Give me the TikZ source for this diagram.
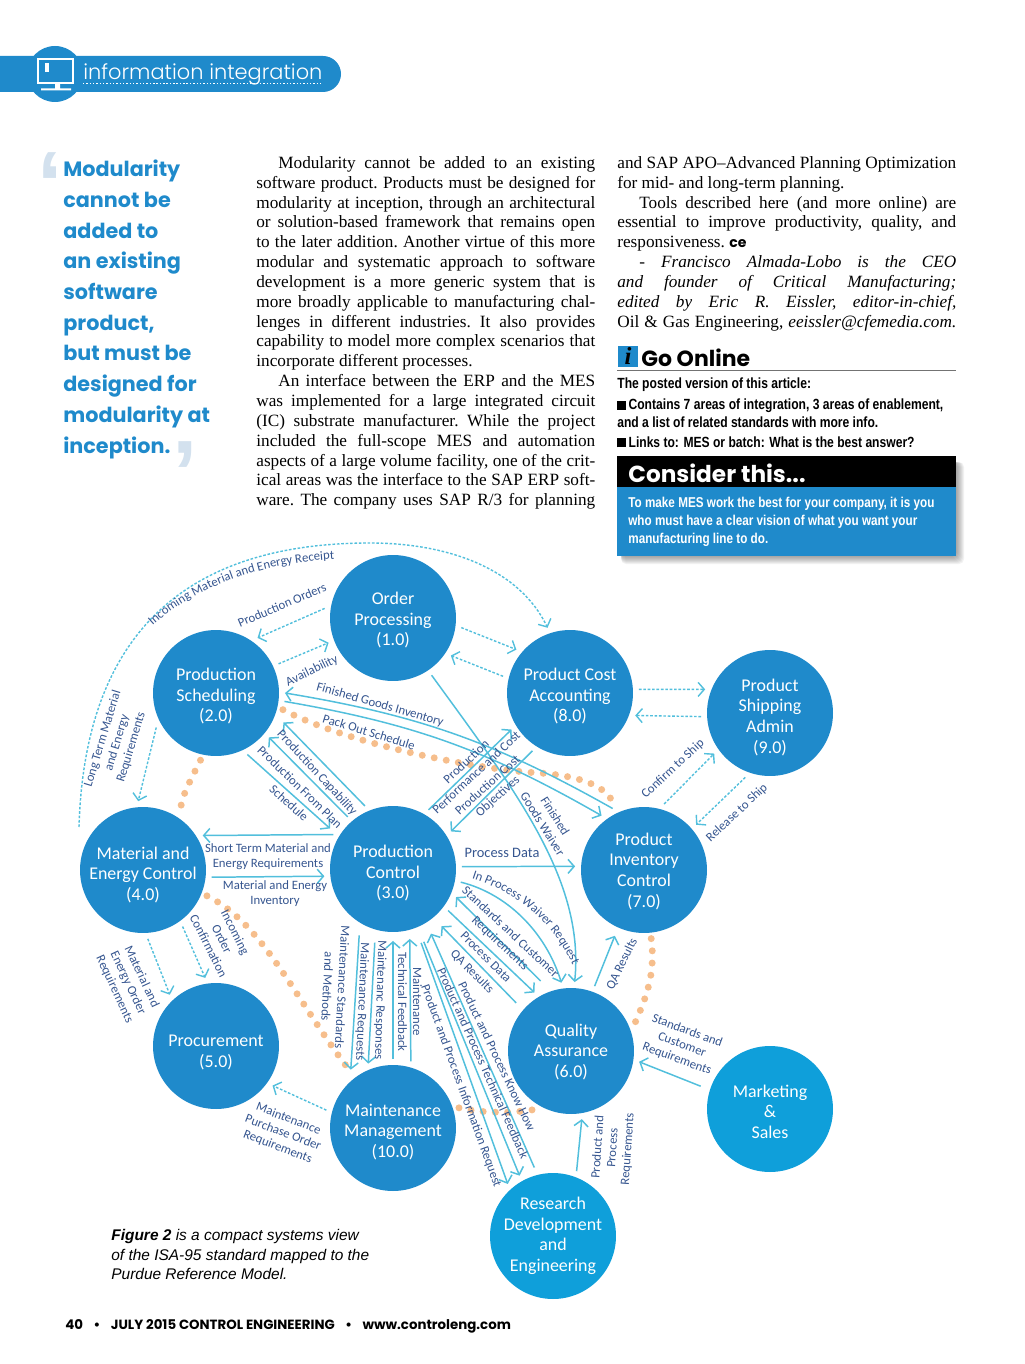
\documentclass[tikz,border=0pt]{standalone}
\usepackage{fontspec}
\usetikzlibrary{arrows.meta, backgrounds, decorations.text}
\setmainfont{Liberation Serif}
\newfontfamily\diagfont{Carlito}
\newfontfamily\narrowfont{Liberation Sans}[FakeStretch=0.82]
\newfontfamily\capfont{Liberation Sans}
\newfontfamily\headfont{Poppins}
\newfontfamily\thinfont{Poppins Light}
\definecolor{isablue}{HTML}{1F8ACB}
\definecolor{isacyan}{HTML}{0F9FDA}
\definecolor{linkcyan}{HTML}{52BFDC}
\definecolor{labelblue}{HTML}{35558F}
\definecolor{dotorange}{HTML}{F6BE8C}
\definecolor{quotegrey}{HTML}{D3E1EE}
\newcommand{\bodyline}[1]{\hbox to 6.78cm{\frenchspacing\spaceskip=0.25em plus 0.3em minus 0.08em\relax #1}}
\newcommand{\sqbullet}{\rule{5pt}{5pt}\,}
\newcommand{\lblface}{\diagfont\fontsize{7.25}{8.5}\selectfont\color{labelblue}}
\newcommand{\nudge}[1]{\mbox{}\\[#1]}
\begin{document}
\begin{tikzpicture}[
      x=0.02cm, y=-0.02cm,
      area/.style={circle, fill=isablue, text=white, minimum size=2.52cm, inner sep=0pt,
        outer sep=0.12cm, align=center, font=\diagfont\fontsize{10.2}{11.7}\selectfont},
      outerarea/.style={area, fill=isacyan},
      lbl/.style={text=labelblue, inner sep=0pt, align=center, font=\lblface},
      link/.style={draw=linkcyan, line width=0.85pt, -{Straight Barb[length=3.5pt,width=8pt]}},
      dlink/.style={link, line width=0.8pt, dash pattern=on 1.5pt off 1pt},
      dots/.style={draw=dotorange, line width=0.14cm, line cap=round, dash pattern=on 0pt off 0.245cm},
      body/.style={anchor=north west, inner sep=0pt, text width=6.78cm,
        font=\fontsize{9.8}{11.3}\selectfont},
      aside/.style={anchor=west, inner sep=0pt, font=\narrowfont\bfseries\fontsize{8.4}{9}\selectfont},
      boxtext/.style={aside, text=white, font=\narrowfont\bfseries\fontsize{8.13}{9}\selectfont},
      pull/.style={anchor=base west, inner sep=0pt, text=isablue, font=\headfont\bfseries\fontsize{11.8}{14}\selectfont},
      quotemark/.style={anchor=center, inner sep=0pt, text=quotegrey, font=\capfont\bfseries\fontsize{52}{52}\selectfont}
    ]
      \useasboundingbox (0,0) rectangle (1024,1364);

      \fill[isablue, rounded corners=0.36cm] (-40,56) rectangle (341,92);
      \fill[isablue] (55,74) circle (0.56cm);
      \draw[white, line width=0.8pt] (38,59) rectangle (73,83);
      \fill[white] (45,63) rectangle (49,72);
      \fill[white] (55,83) rectangle (60,89) (41,88.5) rectangle (71,90.5);
      \node[anchor=base west, inner sep=0pt, text=white, font=\thinfont\fontsize{11.9}{14}\selectfont] (banner) at (83,80) {information integration};
      \draw[white, line width=0.9pt, dash pattern=on 0.8pt off 1.1pt] (83,83.5) -- (322,83.5);

      \node[quotemark] (openq) at (50,184) {‘};
      \node[pull] (q1) at (63,177) {Modularity};
      \node[pull] (q2) at (63,208) {cannot be};
      \node[pull] (q3) at (63,239) {added to};
      \node[pull] (q4) at (63,269) {an existing};
      \node[pull] (q5) at (63,300) {software};
      \node[pull] (q6) at (63,331) {product,};
      \node[pull] (q7) at (63,361) {but must be};
      \node[pull] (q8) at (63,392) {designed for};
      \node[pull] (q9) at (63,423) {modularity at};
      \node[pull] (q10) at (63,454) {inception.};
      \node[quotemark] (closeq) at (185,473) {’};

      \node[body] (col1) at (256,156) {%
        \bodyline{\hspace{4.4mm}Modularity cannot be added to an existing}
        \bodyline{software product. Products must be designed for}
        \bodyline{modularity at inception, through an architectural}
        \bodyline{or solution-based framework that remains open}
        \bodyline{to the later addition. Another virtue of this more}
        \bodyline{modular and systematic approach to software}
        \bodyline{development is a more generic system that is}
        \bodyline{more broadly applicable to manufacturing chal-}
        \bodyline{lenges in different industries. It also provides}
        \bodyline{capability to model more complex scenarios that}
        \bodyline{incorporate different processes.\hfil}
        \bodyline{\hspace{4.4mm}An interface between the ERP and the MES}
        \bodyline{was implemented for a large integrated circuit}
        \bodyline{(IC) substrate manufacturer. While the project}
        \bodyline{included the full-scope MES and automation}
        \bodyline{aspects of a large volume facility, one of the crit-}
        \bodyline{ical areas was the interface to the SAP ERP soft-}
        \bodyline{ware. The company uses SAP R/3 for planning}};
      \node[body] (col2) at (617,156) {%
        \bodyline{and SAP APO--Advanced Planning Optimization}
        \bodyline{for mid- and long-term planning.\hfil}
        \bodyline{\hspace{4.4mm}Tools described here (and more online) are}
        \bodyline{essential to improve productivity, quality, and}
        \bodyline{responsiveness. {\headfont\bfseries\fontsize{8}{8}\selectfont ce}\hfil}
        \bodyline{\hspace{4.4mm}- \itshape Francisco Almada-Lobo is the CEO}
        \bodyline{\itshape and founder of Critical Manufacturing;}
        \bodyline{\itshape edited by Eric R. Eissler, editor-in-chief,}
        \bodyline{Oil \& Gas Engineering, \itshape eeissler@cfemedia.com.}};

      \fill[isablue] (618,346) rectangle (638,367);
      \node[inner sep=0pt, font=\bfseries\itshape\fontsize{14}{14}\selectfont] (infoicon) at (628,356) {i};
      \node[anchor=west, inner sep=0pt, font=\headfont\bfseries\fontsize{12.5}{14}\selectfont] (goonline) at (641,358) {Go Online};
      \draw[black!55, line width=0.6pt] (617,370.5) -- (956,370.5);
      \node[aside] (aside1) at (617,385) {The posted version of this article:};
      \node[aside] (aside2) at (617,406) {\sqbullet Contains 7 areas of integration, 3 areas of enablement,};
      \node[aside] (aside3) at (617,422) {and a list of related standards with more info.};
      \node[aside] (aside4) at (617,442) {\sqbullet Links to: MES or batch: What is the best answer?};

      \foreach \s in {1,...,8}
        \fill[black, opacity=0.05, rounded corners=0.1cm] (621,462) rectangle (956+\s,556+\s);
      \fill[black] (617,456) rectangle (956,487);
      \fill[isablue] (617,487) rectangle (956,556);
      \node[anchor=west, inner sep=0pt, text=white, font=\headfont\bfseries\fontsize{13.2}{14}\selectfont] (consider) at (628,473) {Consider this...};
      \node[boxtext] (cons1) at (628,504) {To make MES work the best for your company, it is you};
      \node[boxtext] (cons2) at (628,522) {who must have a clear vision of what you want your};
      \node[boxtext] (cons3) at (628,540) {manufacturing line to do.};

      \node[area] (order) at (393,618) {\nudge{-2.06pt}Order\\Processing\\(1.0)};
      \node[area] (sched) at (216,693) {\nudge{-0.92pt}Production\\Scheduling\\(2.0)};
      \node[area] (control) at (393,869) {\nudge{0.21pt}Production\\Control\\(3.0)};
      \node[area] (energy) at (143,870) {\nudge{0.78pt}Material and\\Energy Control\\(4.0)};
      \node[area] (procure) at (216,1046) {\nudge{1.92pt}Procurement\\(5.0)};
      \node[area] (quality) at (571,1051) {\nudge{-3.76pt}Quality\\Assurance\\(6.0)};
      \node[area] (inventory) at (644,870) {\nudge{-3.2pt}Product\\Inventory\\Control\\(7.0)};
      \node[area] (cost) at (570,693) {\nudge{-0.92pt}Product Cost\\Accounting\\(8.0)};
      \node[area] (shipping) at (770,713) {\nudge{0.21pt}Product\\Shipping\\Admin\\(9.0)};
      \node[area] (maint) at (393,1128) {\nudge{-0.36pt}Maintenance\\Management\\(10.0)};
      \node[outerarea] (sales) at (770,1109) {\nudge{-1.5pt}Marketing\\\&\\Sales};
      \node[outerarea] (research) at (553,1236) {Research\\Development\\and\\Engineering};

      \begin{scope}[on background layer]
        \draw[dots] (sched.-103) .. controls (188,785) and (180,800) .. (energy.57);
        \draw[dots] (sched.-14) .. controls (350,745) and (480,770) .. (540,773) .. controls (590,777) and (610,790) .. (inventory.115);
        \draw[dots] (energy.-22) .. controls (265,925) and (295,1000) .. (maint.127);
        \draw[dots] (maint.17) .. controls (490,1115) and (520,1112) .. (quality.-122);
        \draw[dots] (inventory.-84) .. controls (656,975) and (645,1000) .. (quality.23);
      \end{scope}

      \coordinate (receiptstart) at (79,827);
      \draw[dlink] (receiptstart) .. controls (85,620) and (200,543) .. (370,543) .. controls (450,543) and (520,570) .. (cost.109);
      \draw[dlink] (order.172) -- (sched.53);
      \draw[dlink] (sched.25) -- (order.201);
      \draw[dlink] (order.-8) -- (cost.141);
      \draw[dlink] (cost.166) -- (order.-33);
      \draw[dlink] (cost.3) -- (shipping.160);
      \draw[dlink] (shipping.183) -- (cost.-19);
      \draw[dlink] (inventory.73) -- (shipping.216);
      \draw[dlink] (shipping.-111) -- (inventory.41);
      \draw[dlink] (sched.210) -- (energy.94);
      \draw[dlink] (energy.-86) -- (procure.132);
      \draw[dlink] (energy.-55) -- (procure.99);
      \draw[dlink] (maint.165) -- (procure.-35);

      \draw[link] (inventory.117) to[bend right=10] (sched.0);
      \draw[link] (sched.-7) to[bend left=10] (inventory.128);
      \draw[link] (order.-56) .. controls (515,790) and (585,880) .. (quality.87);
      \draw[link] (control.59) -- (cost.212);
      \draw[link] (cost.-123) -- (control.33);
      \draw[link] (control.2) -- (inventory.177);
      \draw[link] (control.-11) .. controls (505,893) and (545,930) .. (quality.98);
      \draw[link, shorten <=0.16cm] (quality.111) -- (control.-24);
      \draw[link] (control.-37) -- (quality.122);
      \draw[link, shorten <=0.08cm, shorten >=0.12cm] (quality.139) -- (control.-50);
      \draw[link, shorten <=0.04cm, shorten >=0.12cm] (research.105) -- (control.-59);
      \draw[link, shorten <=0.2cm] (control.-67) -- (research.119);
      \draw[link, shorten <=0.2cm] (control.-69) -- (research.131);
      \draw[link, shorten <=0.12cm, shorten >=0.08cm] (control.-119) -- (maint.128);
      \draw[link, shorten <=0.14cm] (control.-105) -- (maint.111);
      \draw[link, shorten >=0.06cm] (maint.90) -- (control.-90);
      \draw[link, shorten >=0.06cm] (maint.75) -- (control.-76);
      \draw[link, shorten >=0.06cm] (quality.70) -- (inventory.246);
      \draw[link, shorten <=0.08cm] (sales.162) -- (quality.-9);
      \draw[link] (research.70) -- (quality.-81);
      \draw[link, shorten >=0.1cm] (control.114) -- (sched.-22);
      \draw[link] (control.131) -- (sched.-40);
      \draw[link, shorten >=0.12cm] (sched.-63) -- (control.148);
      \draw[link] (control.150) -- (energy.30);
      \draw[link] (energy.-6) -- (control.186);

      \path[decorate, decoration={text along path, text align=center,
        text={|\lblface|Incoming Material and Energy Receipt}}]
        (150,628) .. controls (190,590) and (260,562) .. (338,559);
      \path[decorate, decoration={text along path, text align=center,
        text={|\lblface|In Process Waiver Request}}]
        (471,878) .. controls (515,892) and (552,920) .. (573,966);
      \node[lbl, rotate=23] (lorders) at (282,605) {Production Orders};
      \node[lbl, rotate=26] (lavail) at (312,671) {Availability};
      \node[lbl, rotate=-16] (lfinished) at (380,705) {Finished Goods Inventory};
      \node[lbl, rotate=-17] (lpackout) at (369,732) {Pack Out Schedule};
      \node[lbl, rotate=-47] (lcapab) at (317,773) {Production Capability};
      \node[lbl, rotate=-44] (lplan) at (300,787) {Production From Plan};
      \node[lbl, rotate=-42] (lschedule) at (289,803) {Schedule};
      \node[lbl, rotate=73] (llong) at (117,743) {Long Term Material\\and Energy\\Requirements};
      \node[lbl] (lshort) at (268,857) {Short Term Material and\\Energy Requirements};
      \node[lbl] (lmatinv) at (275,894) {Material and Energy\\Inventory};
      \node[lbl, rotate=-63] (lincoming) at (222,939) {Incoming\\Order\\Confirmation};
      \node[lbl, rotate=-65] (lmatorder) at (128,983) {Material and\\Energy Order\\Requirements};
      \node[lbl, rotate=-21] (lpurchase) at (283,1133) {Maintenance\\Purchase Order\\Requirements};
      \node[lbl, rotate=-93] (lstandards) at (335,987) {Maintenance Standards\\and Methods};
      \node[lbl, rotate=-92.5] (lrequests) at (362,1002) {Maintenance Requests};
      \node[lbl, rotate=-91.6] (lresponses) at (380,1000) {Maintenanc Responses};
      \node[lbl, rotate=-90] (ltech) at (410,1002) {Maintenance\\Technical Feedback};
      \node[lbl, rotate=-70] (linforeq) at (461,1086) {Product and Process Information Request};
      \node[lbl, rotate=-66] (ltechfeed) at (483,1063) {Product and Process Technical Feedback};
      \node[lbl, rotate=-64.5] (lknow) at (497,1056) {Product and Process Know How};
      \node[lbl, rotate=-45] (lqaleft) at (472,972) {QA Results};
      \node[lbl, rotate=-45] (lprocdiag) at (486,957) {Process Data};
      \node[lbl, rotate=-43] (lcustomer) at (505,938) {Standards and Customer\\Requirements};
      \node[lbl, font=\diagfont\fontsize{8.2}{9}\selectfont] (lprocess) at (502,853) {Process Data};
      \node[lbl, rotate=-58] (lgoods) at (549,820) {Finished\\Goods Waiver};
      \node[lbl, rotate=43] (lperf) at (471,767) {Production\\Performance and Cost};
      \node[lbl, rotate=42] (lobject) at (493,791) {Production Cost\\Objectives};
      \node[lbl, rotate=43] (lconfirm) at (673,769) {Confirm to Ship};
      \node[lbl, rotate=43] (lrelease) at (737,813) {Release to Ship};
      \node[lbl, rotate=64] (lqaright) at (622,964) {QA Results};
      \node[lbl, rotate=-20] (lsales) at (682,1045) {Standards and\\Customer\\Requirements};
      \node[lbl, rotate=86] (lreqs) at (613,1148) {Product and\\Process\\Requirements};

      \node[anchor=north west, inner sep=0pt, align=left, font=\capfont\itshape\fontsize{8.8}{11.1}\selectfont] (caption) at (111,1229)
        {{\bfseries Figure 2} is a compact systems view\\of the ISA-95 standard mapped to the\\Purdue Reference Model.};
      \node[anchor=west, inner sep=0pt, font=\headfont\bfseries\fontsize{7.6}{8}\selectfont] (footer) at (65,1326)
        {40\hspace{6pt}•\hspace{6pt}JULY 2015 CONTROL ENGINEERING\hspace{6pt}•\hspace{6pt}www.controleng.com};
    \end{tikzpicture}
\end{document}
